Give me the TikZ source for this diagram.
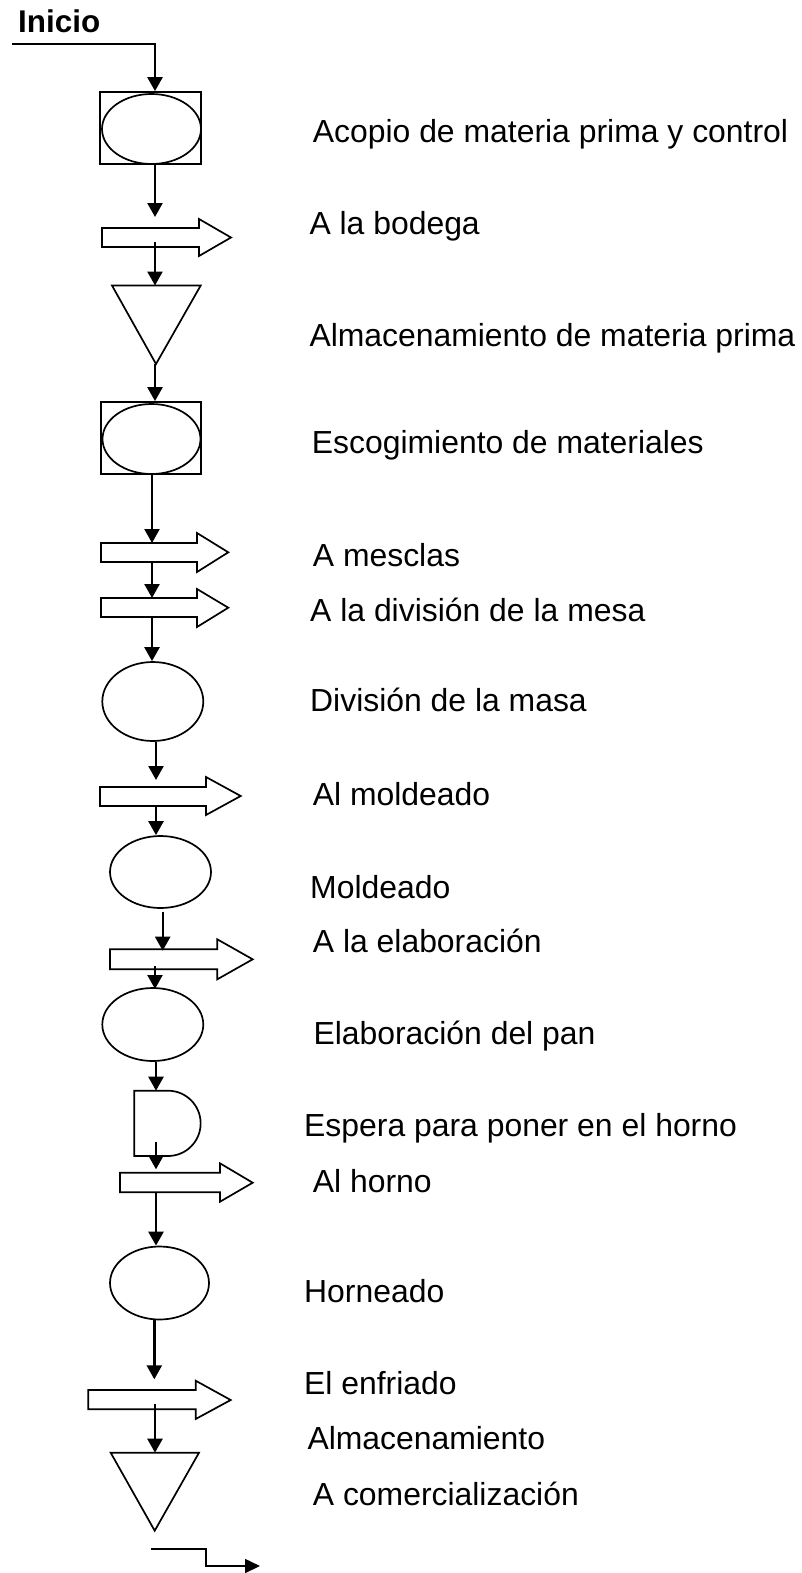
\documentclass[tikz,border=0pt]{standalone}
\usepackage{fontspec}
\setmainfont{Liberation Sans}
\usetikzlibrary{arrows.meta,shapes.geometric}
\begin{document}
\begin{tikzpicture}[x=1pt,y=-1pt,
  shp/.style={draw=black,line width=1.7pt,line join=miter,fill=white},
  ell/.style={draw=black,line width=1.7pt,ellipse,inner sep=0pt},
  conn/.style={draw=black,line width=2.4pt,-{Triangle[length=14pt,width=15pt]}},
  lbl/.style={anchor=base west,inner sep=0pt,font=\fontsize{31.9pt}{36pt}\selectfont}]
\useasboundingbox (0,0) rectangle (802,1573);

% ---- shapes ----
% 1 operation+inspection
\node[draw=black,line width=1.7pt,minimum width=101pt,minimum height=72pt,inner sep=0pt] (b1) at (150.5,128) {};
\node[ell,minimum width=99pt,minimum height=70pt] (e1) at (151.5,129) {};
% block arrow 1
\draw[shp] (102,228) -- (199,228) -- (199,219) -- (231,237.5) -- (199,256) -- (199,247) -- (102,247) -- cycle;
\coordinate (ba1) at (155,242);
% triangle 1
\draw[shp] (112,285.5) -- (200.7,285.5) -- (156,364) -- cycle;
\coordinate (t1top) at (155,285.5);
\coordinate (t1) at (155,364);
% 2 operation+inspection
\node[draw=black,line width=1.7pt,minimum width=100pt,minimum height=72pt,inner sep=0pt] (b2) at (151,438) {};
\node[ell,minimum width=98pt,minimum height=70pt] (e2) at (151.5,439) {};
% block arrows 2, 3
\draw[shp] (101,543) -- (197,543) -- (197,533) -- (228.3,552.3) -- (197,572) -- (197,562) -- (101,562) -- cycle;
\coordinate (ba2) at (152,562);
\draw[shp] (101,598) -- (197,598) -- (197,589) -- (228.3,607.7) -- (197,627) -- (197,617) -- (101,617) -- cycle;
\coordinate (ba3) at (152,617);
% ellipse division
\node[ell,minimum width=101pt,minimum height=79pt] (e3) at (152.8,701.5) {};
% block arrow 4
\draw[shp] (100,787) -- (206,787) -- (206,777) -- (240.7,796) -- (206,815) -- (206,806) -- (100,806) -- cycle;
\coordinate (ba4) at (156,806);
% ellipse moldeado
\node[ell,minimum width=101pt,minimum height=72pt] (e4) at (160.5,872) {};
% block arrow 5
\draw[shp] (110,949.3) -- (217.3,949.3) -- (217.3,939.3) -- (252.7,959.3) -- (217.3,979.3) -- (217.3,969.3) -- (110,969.3) -- cycle;
\coordinate (ba5) at (155,966);
% ellipse elaboracion
\node[ell,minimum width=101pt,minimum height=73pt] (e5) at (152.8,1024.5) {};
% delay
\draw[shp] (134.3,1090.7) -- (168,1090.7) arc[start angle=90,end angle=-90,radius=32.65pt] -- (134.3,1156) -- cycle;
\coordinate (d1top) at (156,1090.7);
\coordinate (d1) at (156,1141.7);
% block arrow 6
\draw[shp] (120,1172.7) -- (220,1172.7) -- (220,1163.3) -- (252.7,1182.7) -- (220,1201.7) -- (220,1192.3) -- (120,1192.3) -- cycle;
\coordinate (ba6) at (156,1192.3);
% ellipse horneado
\node[ell,minimum width=99pt,minimum height=73pt] (e6) at (159.5,1283) {};
% block arrow 7
\draw[shp] (88.3,1390) -- (195.7,1390) -- (195.7,1380.7) -- (230.7,1400) -- (195.7,1419) -- (195.7,1409.3) -- (88.3,1409.3) -- cycle;
\coordinate (ba7) at (155,1404);
% triangle 2
\draw[shp] (110.7,1452.7) -- (199,1452.7) -- (154.7,1530.7) -- cycle;
\coordinate (t2top) at (155,1452.7);

% ---- connectors ----
\coordinate (s0) at (12,44);
\coordinate (s1) at (155,44);
\draw[conn] (s0) -- (s1) -- (b1.north -| s1);
\coordinate (a1s) at (155,164);
\coordinate (a1e) at (155,217);
\draw[conn] (a1s) -- (a1e);
\draw[conn] (ba1) -- (t1top);
\draw[conn] (t1) -- (t1 |- b2.north);
\draw[conn] (b2.south -| ba2) -- (ba2 |- 0,543);
\draw[conn] (ba2) -- (ba2 |- 0,598);
\draw[conn] (ba3) -- (ba3 |- e3.north);
\draw[conn] (e3.south -| ba4) -- (ba4 |- 0,780);
\draw[conn] (ba4) -- (ba4 |- e4.north);
\coordinate (a9s) at (162.7,911.7);
\draw[conn] (a9s) -- (a9s |- 0,950.7);
\draw[conn] (ba5) -- (ba5 |- 0,989);
\draw[conn] (e5.south -| d1top) -- (d1top);
\draw[conn] (d1) -- (d1 |- 0,1169.3);
\draw[conn] (ba6) -- (ba6 |- e6.north);
\coordinate (a15s) at (154.3,1319.5);
\draw[conn] (a15s) -- (a15s |- 0,1379.3);
\draw[conn] (ba7) -- (t2top);
\coordinate (f0) at (151,1548.7);
\coordinate (f1) at (206,1548.7);
\coordinate (f2) at (206,1566);
\coordinate (f3) at (260,1566);
\draw[draw=black,line width=1.7pt,-{Triangle[length=15pt,width=14pt]}] (f0) -- (f1) -- (f2) -- (f3);

% ---- labels ----
\node[lbl,font=\fontsize{31.4pt}{36pt}\selectfont\bfseries] (tInicio) at (18,32.5) {Inicio};
\node[lbl] (l1) at (312.7,142.7) {Acopio de materia prima y control};
\node[lbl] (l2) at (309.3,234.3) {A la bodega};
\node[lbl] (l3) at (309.3,346.7) {Almacenamiento de materia prima};
\node[lbl] (l4) at (311.7,453.3) {Escogimiento de materiales};
\node[lbl] (l5) at (312.7,566.7) {A mesclas};
\node[lbl] (l6) at (310,621.7) {A la división de la mesa};
\node[lbl] (l7) at (310,711.7) {División de la masa};
\node[lbl] (l8) at (312.7,805) {Al moldeado};
\node[lbl] (l9) at (310,898) {Moldeado};
\node[lbl] (l10) at (312.7,952.3) {A la elaboración};
\node[lbl] (l11) at (313.3,1044.3) {Elaboración del pan};
\node[lbl] (l12) at (304,1136.7) {Espera para poner en el horno};
\node[lbl] (l13) at (312.7,1192.7) {Al horno};
\node[lbl] (l14) at (304,1302.3) {Horneado};
\node[lbl] (l15) at (304,1394.3) {El enfriado};
\node[lbl] (l16) at (307.3,1449.3) {Almacenamiento};
\node[lbl] (l17) at (312.7,1505) {A comercialización};
\end{tikzpicture}
\end{document}
